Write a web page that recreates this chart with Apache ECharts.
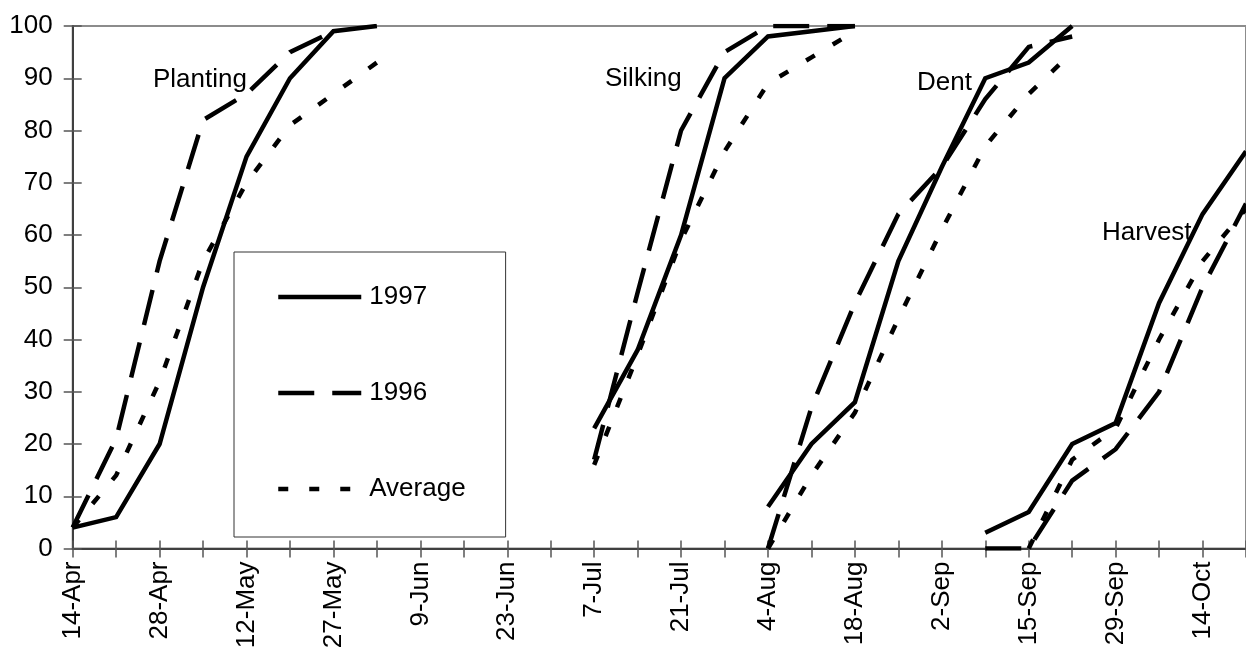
<!DOCTYPE html>
<html>
<head>
<meta charset="utf-8">
<script src="https://cdn.jsdelivr.net/npm/echarts@6/dist/echarts.min.js"></script>
<style>
html,body{margin:0;padding:0;background:#fff;}
#chart{width:1246px;height:656px;}
</style>
</head>
<body>
<div id="chart"></div>
<script>
// Weekly category dates (every other one is labelled)
const categories = ['14-Apr','21-Apr','28-Apr','5-May','12-May','19-May','27-May','2-Jun','9-Jun','16-Jun','23-Jun','30-Jun','7-Jul','14-Jul','21-Jul','28-Jul','4-Aug','11-Aug','18-Aug','25-Aug','2-Sep','8-Sep','15-Sep','22-Sep','29-Sep','6-Oct','14-Oct','20-Oct'];
const yTicks = [0,10,20,30,40,50,60,70,80,90,100];

// Planting (% complete), first value dated 14-Apr
const plantingStart = '14-Apr';
const planting1997 = [4, 6, 20, 50, 75, 90, 99, 100];
const planting1996 = [4, 21, 55, 82, 87, 95, 99];
const plantingAvg  = [4, 14, 32, 55, 70, 81, 87, 93];

// Silking, first value dated 7-Jul
const silkingStart = '7-Jul';
const silking1997 = [23, 38, 60, 90, 98, 99, 100];
const silking1996 = [17, 49, 80, 95, 100, 100, 100];
const silkingAvg  = [16, 37, 59, 76, 89, 94, 99];

// Dent, first value dated 4-Aug
const dentStart = '4-Aug';
const dent1997 = [8, 20, 28, 55, 73, 90, 93, 100];
const dent1996 = [0, 27, 47, 64, 73, 86, 96, 98];
const dentAvg  = [0, 14, 26, 44, 61, 77, 87, 95];

// Harvest
const harvest1997Start = '8-Sep';
const harvest1997 = [3, 7, 20, 24, 47, 64, 76];
const harvest1996Start = '8-Sep';
const harvest1996 = [0, 0, 13, 19, 30, 50, 66];
const harvestAvgStart = '15-Sep';
const harvestAvg  = [0, 17, 23, 40, 55, 65];

const stageLabels = ['Planting', 'Silking', 'Dent', 'Harvest'];
const legendNames = ['1997', '1996', 'Average'];

function pad(start, vals) {
  const out = categories.map(() => null);
  const s = categories.indexOf(start);
  vals.forEach((v, i) => { out[s + i] = v; });
  return out;
}

const FONT = 'Liberation Sans, Arial, sans-serif';
const styles = {
  '1997': { color: '#000', width: 4.5, type: 'solid' },
  '1996': { color: '#000', width: 4.5, type: [36, 18] },
  'Average': { color: '#000', width: 4.5, type: [10, 21] }
};
function mk(name, data) {
  return {
    name: name, type: 'line', data: data, symbol: 'none', showSymbol: false,
    connectNulls: false, animation: false, silent: true,
    lineStyle: Object.assign({ cap: 'butt', join: 'miter' }, styles[name]),
    itemStyle: { color: '#000' }
  };
}

const series = [
  mk('1997', pad(plantingStart, planting1997)),
  mk('1996', pad(plantingStart, planting1996)),
  mk('Average', pad(plantingStart, plantingAvg)),
  mk('1997', pad(silkingStart, silking1997)),
  mk('1996', pad(silkingStart, silking1996)),
  mk('Average', pad(silkingStart, silkingAvg)),
  mk('1997', pad(dentStart, dent1997)),
  mk('1996', pad(dentStart, dent1996)),
  mk('Average', pad(dentStart, dentAvg)),
  mk('1997', pad(harvest1997Start, harvest1997)),
  mk('1996', pad(harvest1996Start, harvest1996)),
  mk('Average', pad(harvestAvgStart, harvestAvg))
];

const labelPos = [
  { left: 153, top: 79.5 },
  { left: 605, top: 79 },
  { left: 917, top: 83 },
  { left: 1102, top: 233 }
];

const chart = echarts.init(document.getElementById('chart'), null, { renderer: 'canvas' });
chart.setOption({
  animation: false,
  backgroundColor: '#fff',
  grid: {
    left: 72.7, top: 26, right: -7, bottom: 107.5,
    show: true, borderColor: '#8c8c8c', borderWidth: 2, backgroundColor: 'transparent'
  },
  legend: {
    data: legendNames,
    orient: 'vertical', left: 234, top: 252,
    padding: [32, 40, 35, 42],
    itemGap: 70, itemWidth: 83, itemHeight: 26,
    backgroundColor: '#fff', borderColor: '#333', borderWidth: 1,
    selectedMode: false,
    itemStyle: { color: 'rgba(0,0,0,0)', opacity: 0, borderWidth: 0 },
    lineStyle: { width: 4.5, color: '#000', cap: 'butt' },
    textStyle: { fontFamily: FONT, fontSize: 26, color: '#000', lineHeight: 26, padding: [0, 0, 0, 3] }
  },
  xAxis: [{
    type: 'category', data: categories, boundaryGap: false, position: 'bottom',
    axisLine: { show: true, onZero: false, lineStyle: { color: '#404040', width: 2 } },
    axisTick: { show: true, inside: false, length: 9, interval: 0, lineStyle: { color: '#555', width: 1.5 } },
    axisLabel: { interval: 1, rotate: 90, margin: 13, fontFamily: FONT, fontSize: 26, color: '#000' },
    splitLine: { show: false }
  }, {
    type: 'category', data: categories, boundaryGap: false, position: 'bottom',
    axisLine: { show: false },
    axisTick: { show: true, inside: true, length: 8, interval: 0, lineStyle: { color: '#555', width: 1.5 } },
    axisLabel: { show: false }, splitLine: { show: false }
  }],
  yAxis: [{
    type: 'value', min: yTicks[0], max: yTicks[yTicks.length - 1], interval: 10, position: 'left',
    axisLine: { show: true, lineStyle: { color: '#404040', width: 2 } },
    axisTick: { show: true, inside: false, length: 9, lineStyle: { color: '#555', width: 1.5 } },
    axisLabel: { margin: 20, fontFamily: FONT, fontSize: 26, color: '#000' },
    splitLine: { show: false }
  }, {
    type: 'value', min: yTicks[0], max: yTicks[yTicks.length - 1], interval: 10, position: 'left', offset: 0,
    axisLine: { show: false },
    axisTick: { show: true, inside: true, length: 9, lineStyle: { color: '#555', width: 1.5 } },
    axisLabel: { show: false }, splitLine: { show: false }
  }],
  graphic: stageLabels.map((t, i) => ({
    type: 'text', left: labelPos[i].left, top: labelPos[i].top - 13, z: 100,
    style: { text: t, fontFamily: FONT, fontSize: 26, fill: '#000', lineHeight: 26 }
  })),
  series: series
});
</script>
</body>
</html>
